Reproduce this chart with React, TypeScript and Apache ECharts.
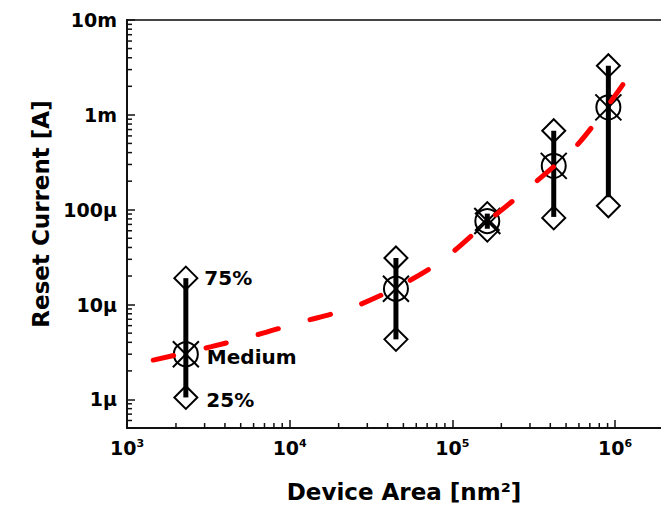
import React, { useEffect, useRef } from 'react';
import * as echarts from 'echarts';

// Device areas [nm^2] of the five measured devices
const areas = [2300, 45000, 164000, 420000, 910000];
// Reset current statistics [A]
const medianCurrent = [3.0e-6, 1.47e-5, 7.6e-5, 2.9e-4, 1.2e-3];
const q75Current = [1.9e-5, 3.1e-5, 9.1e-5, 6.8e-4, 3.3e-3];
const q25Current = [1.05e-6, 4.3e-6, 6.1e-5, 8.2e-5, 1.1e-4];
const barHigh = [1.9e-5, 3.1e-5, 9.1e-5, 6.8e-4, 3.3e-3];
const barLow = [1.05e-6, 4.3e-6, 6.3e-5, 8.4e-5, 1.35e-4];

// Red dashed trend curve
const fitArea = [1450, 3300, 6300, 11600, 23000, 45000, 86000, 166000, 318000, 603000, 1120000];
const fitCurrent = [2.6e-6, 3.6e-6, 4.8e-6, 6.5e-6, 9.0e-6, 1.5e-5, 2.9e-5, 7.6e-5, 1.9e-4, 5.1e-4, 2.1e-3];

// Axis ticks
const yTickValues = [1e-2, 1e-3, 1e-4, 1e-5, 1e-6];
const yTickLabels = ['10m', '1m', '100µ', '10µ', '1µ'];
const xTickExponents = [3, 4, 5, 6];
const minorMultipliers = [2, 3, 4, 5, 6, 7, 8, 9];
const xDecades = [3, 4, 5, 6];
const yDecades = [-7, -6, -5, -4, -3];
const pointLabels = ['75%', 'Medium', '25%'];

const X_MIN = 1e3;
const X_MAX = 2e6;
const Y_MIN = 5e-7;
const Y_MAX = 1e-2;

const FONT = 'DejaVu Sans';

export default function App() {
  const ref = useRef<HTMLDivElement>(null);

  useEffect(() => {
    if (!ref.current) return;
    const chart = echarts.init(ref.current, undefined, { renderer: 'svg' });

    const xMinor: number[][] = [];
    xDecades.forEach((d) =>
      minorMultipliers.forEach((m) => {
        const v = m * Math.pow(10, d);
        if (v > X_MIN && v < X_MAX) xMinor.push([v, Y_MIN]);
      })
    );
    const yMinor: number[][] = [];
    yDecades.forEach((d) =>
      minorMultipliers.forEach((m) => {
        const v = m * Math.pow(10, d);
        if (v > Y_MIN && v < Y_MAX) yMinor.push([X_MIN, v]);
      })
    );

    const labelBase = {
      position: 'right' as const,
      fontSize: 20,
      fontWeight: 'bold' as const,
      fontFamily: FONT,
      color: '#000',
      opacity: 1,
      textBorderWidth: 0,
    };

    const option: any = {
      animation: false,
      textStyle: { fontFamily: FONT },
      grid: {
        left: 127,
        top: 20,
        right: -3,
        bottom: 79,
        show: true,
        borderColor: '#444',
        borderWidth: 2,
        outerBoundsMode: 'none',
        containLabel: false,
      },
      xAxis: {
        type: 'log',
        logBase: 10,
        min: X_MIN,
        max: X_MAX,
        splitLine: { show: false },
        axisLine: { show: true, lineStyle: { color: '#111', width: 2 } },
        axisTick: { show: true, inside: true, length: 8, lineStyle: { color: '#111', width: 1.5 } },
        axisLabel: {
          margin: 10,
          color: '#000',
          formatter: (v: number) => {
            const e = Math.log10(v);
            const r = Math.round(e);
            if (Math.abs(e - r) > 0.01 || !xTickExponents.includes(r)) return '';
            return `{b|10}{s|${r}}`;
          },
          rich: {
            b: { fontSize: 19, fontWeight: 'bold', fontFamily: FONT, color: '#000' },
            s: { fontSize: 11, fontWeight: 'bold', fontFamily: FONT, color: '#000', verticalAlign: 'top' },
          },
        },
        name: 'Device Area [nm²]',
        nameLocation: 'middle',
        nameGap: 52,
        nameTextStyle: {
          fontSize: 23,
          fontWeight: 'bold',
          fontFamily: FONT,
          color: '#000',
          padding: [0, 0, 0, 17],
        },
      },
      yAxis: {
        type: 'log',
        logBase: 10,
        min: Y_MIN,
        max: Y_MAX,
        splitLine: { show: false },
        axisLine: { show: true, lineStyle: { color: '#111', width: 2 } },
        axisTick: { show: true, inside: true, length: 8, lineStyle: { color: '#111', width: 1.5 } },
        axisLabel: {
          margin: 10,
          fontSize: 19,
          fontWeight: 'bold',
          fontFamily: FONT,
          color: '#000',
          formatter: (v: number) => {
            const i = yTickValues.findIndex((t) => Math.abs(Math.log10(v) - Math.log10(t)) < 0.01);
            return i >= 0 ? yTickLabels[i] : '';
          },
        },
        name: 'Reset Current [A]',
        nameLocation: 'middle',
        nameGap: 75,
        nameTextStyle: {
          fontSize: 23,
          fontWeight: 'bold',
          fontFamily: FONT,
          color: '#000',
          padding: [0, 0, 0, 20],
        },
      },
      series: [
        {
          type: 'custom',
          silent: true,
          encode: { x: 0, y: 1 },
          data: xMinor,
          renderItem: (_p: any, api: any) => {
            const p = api.coord([api.value(0), api.value(1)]);
            return {
              type: 'line',
              shape: { x1: p[0], y1: p[1], x2: p[0], y2: p[1] - 5 },
              style: { stroke: '#111', lineWidth: 1.5 },
            };
          },
        },
        {
          type: 'custom',
          silent: true,
          encode: { x: 0, y: 1 },
          data: yMinor,
          renderItem: (_p: any, api: any) => {
            const p = api.coord([api.value(0), api.value(1)]);
            return {
              type: 'line',
              shape: { x1: p[0], y1: p[1], x2: p[0] + 5, y2: p[1] },
              style: { stroke: '#111', lineWidth: 1.5 },
            };
          },
        },
        {
          type: 'custom',
          silent: true,
          encode: { x: 0, y: [1, 2] },
          data: areas.map((a, i) => [a, barLow[i], barHigh[i]]),
          renderItem: (_p: any, api: any) => {
            const p1 = api.coord([api.value(0), api.value(1)]);
            const p2 = api.coord([api.value(0), api.value(2)]);
            return {
              type: 'line',
              shape: { x1: p1[0], y1: p1[1], x2: p2[0], y2: p2[1] },
              style: { stroke: '#000', lineWidth: 5 },
            };
          },
          z: 2,
        },
        {
          type: 'scatter',
          symbol: 'diamond',
          symbolSize: [23, 23],
          itemStyle: { color: 'transparent', borderColor: '#000', borderWidth: 2, opacity: 1 },
          data: areas.map((a, i) => ({
            value: [a, q75Current[i]],
            label: { show: i === 0, formatter: pointLabels[0], distance: 6, ...labelBase },
          })),
          z: 3,
        },
        {
          type: 'scatter',
          symbol: 'diamond',
          symbolSize: [23, 23],
          itemStyle: { color: 'transparent', borderColor: '#000', borderWidth: 2, opacity: 1 },
          data: areas.map((a, i) => ({
            value: [a, q25Current[i]],
            label: { show: i === 0, formatter: pointLabels[2], distance: 8, offset: [0, 3], ...labelBase },
          })),
          z: 3,
        },
        {
          type: 'scatter',
          symbol: 'circle',
          symbolSize: 24,
          itemStyle: { color: 'transparent', borderColor: '#000', borderWidth: 2, opacity: 1 },
          data: areas.map((a, i) => ({
            value: [a, medianCurrent[i]],
            label: { show: i === 0, formatter: pointLabels[1], distance: 8, offset: [0, 3], ...labelBase },
          })),
          z: 4,
        },
        {
          type: 'scatter',
          symbol: 'path://M0,0L10,10M10,0L0,10',
          symbolSize: 26,
          itemStyle: { color: 'transparent', borderColor: '#000', borderWidth: 2, opacity: 1 },
          data: areas.map((a, i) => [a, medianCurrent[i]]),
          z: 4,
        },
        {
          type: 'line',
          symbol: 'none',
          showSymbol: false,
          smooth: 0.3,
          data: fitArea.map((a, i) => [a, fitCurrent[i]]),
          lineStyle: { color: '#ff0000', width: 5, type: [21, 33], cap: 'round' },
          z: 10,
        },
      ],
    };

    chart.setOption(option);
    return () => chart.dispose();
  }, []);

  return (
    <div
      ref={ref}
      style={{ position: 'fixed', left: 0, top: 0, width: 661, height: 507, background: '#fff' }}
    />
  );
}
